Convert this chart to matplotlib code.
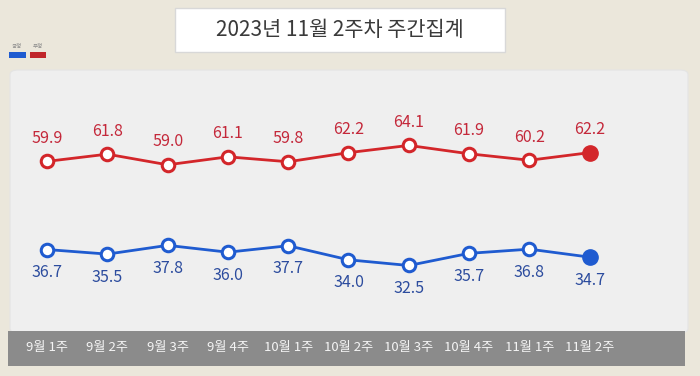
import matplotlib.pyplot as plt
from matplotlib.patches import FancyBboxPatch, Rectangle

plt.rcParams['font.family'] = ['Noto Sans CJK KR', 'DejaVu Sans']

weeks = ["9월 1주", "9월 2주", "9월 3주", "9월 4주", "10월 1주",
         "10월 2주", "10월 3주", "10월 4주", "11월 1주", "11월 2주"]
negative = [59.9, 61.8, 59.0, 61.1, 59.8, 62.2, 64.1, 61.9, 60.2, 62.2]
positive = [36.7, 35.5, 37.8, 36.0, 37.7, 34.0, 32.5, 35.7, 36.8, 34.7]

red = "#d3262a"
blue = "#1f5bd0"
W, H = 700, 376

fig = plt.figure(figsize=(7, 3.76), dpi=100)
fig.patch.set_facecolor("#ebe7db")

# pixel coords -> figure fraction
def fx(px):
    return px / W

def fy(py):
    return 1 - py / H

# white panel + grey label bar
panel = FancyBboxPatch((fx(10), fy(333)), fx(678), 263 / H,
                       boxstyle="round,pad=0,rounding_size=0.012",
                       transform=fig.transFigure, facecolor="#efefef",
                       edgecolor="#e4e4e4", lw=0.8)
fig.patches.append(panel)
fig.patches.append(Rectangle((fx(8), fy(366)), fx(677), 35 / H,
                             transform=fig.transFigure, facecolor="#8b8b8b",
                             edgecolor="none"))

# title box
fig.patches.append(Rectangle((fx(175), fy(52)), fx(330), 44 / H,
                             transform=fig.transFigure, facecolor="white",
                             edgecolor="#d8d8d8", lw=1))
fig.text(fx(340), fy(30), "2023년 11월 2주차 주간집계", ha="center", va="center",
         fontsize=15, color="#3a3a3a", fontweight="medium")

# legend
fig.patches.append(Rectangle((fx(9), fy(58)), fx(17), 6 / H,
                             transform=fig.transFigure, facecolor=blue))
fig.patches.append(Rectangle((fx(30), fy(58)), fx(16), 6 / H,
                             transform=fig.transFigure, facecolor="#c0262a"))
fig.text(fx(17), fy(47), "긍정", ha="center", va="center", fontsize=4, color="#888888")
fig.text(fx(38), fy(47), "부정", ha="center", va="center", fontsize=4, color="#888888")

# main axes over the panel
ax = fig.add_axes([fx(10), fy(333), fx(678), 263 / H])
ax.set_zorder(5)
ax.set_facecolor("none")
x = list(range(len(weeks)))
ax.set_xlim(-(47 - 10) / 60.3, (688 - 47) / 60.3)
ax.set_ylim((389 - 333) / 3.8, (389 - 70) / 3.8)
ax.axis("off")

for vals, col, txtcol, off in [(negative, red, "#c4283a", 23),
                               (positive, blue, "#2c4c9e", -23)]:
    ax.plot(x, vals, color=col, lw=2, zorder=2)
    ax.plot(x[:-1], vals[:-1], "o", ms=9, mfc="white", mec=col, mew=2.2, zorder=3)
    ax.plot(x[-1], vals[-1], "o", ms=11, mfc=col, mec=col, zorder=3)
    for xi, v in zip(x, vals):
        ax.annotate(f"{v:.1f}", (xi, v), xytext=(0, off), textcoords="offset pixels",
                    ha="center", va="center", fontsize=11.5, color=txtcol)

# week labels in grey bar
for xi, lab in zip(x, weeks):
    ax.text(xi, -(348 - 333) / 263, lab, transform=ax.get_xaxis_transform(),
            ha="center", va="center", fontsize=9.5, color="#f4f4f4",
            fontweight="medium", clip_on=False)

fig.savefig("out.png", dpi=100)
